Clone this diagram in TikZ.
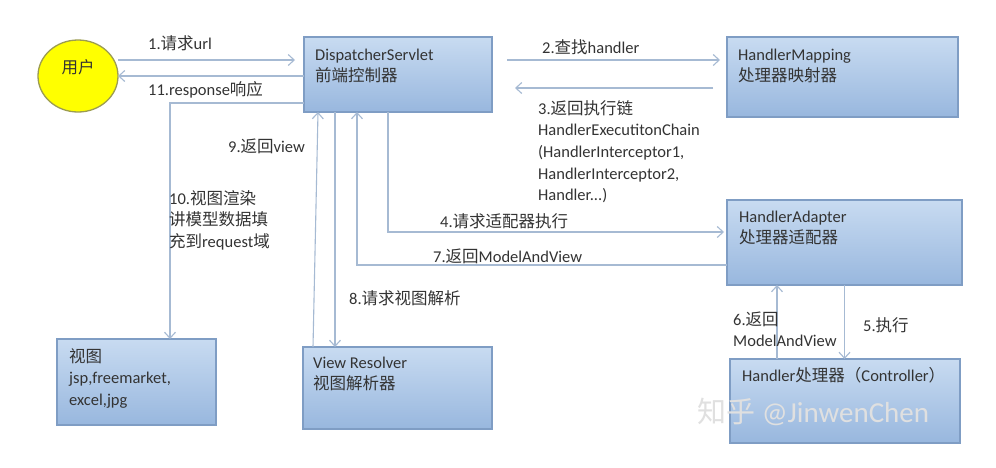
\documentclass[tikz,border=0pt]{standalone}
\usepackage{fontspec}
\setmainfont{Carlito}
\newfontfamily\cjk{Noto Sans CJK SC}
\usetikzlibrary{arrows.meta,shapes.geometric}
\definecolor{txt}{HTML}{333333}
\definecolor{boxtop}{HTML}{C8DBF1}
\definecolor{boxbot}{HTML}{98B7DE}
\definecolor{boxline}{HTML}{7F9DC4}
\definecolor{conn}{HTML}{A6BAD3}
\definecolor{usercol}{HTML}{FFFF00}
\definecolor{userline}{HTML}{9C9C50}
\newcommand\zh[1]{{\cjk #1}}
\newcommand\ml[1]{\begin{tabular}[t]{@{}l@{}}#1\end{tabular}}
\tikzset{
  box/.style={draw=boxline, line width=1.3pt, top color=boxtop, bottom color=boxbot, inner sep=0pt, outer sep=0pt},
  lbl/.style={anchor=base west, inner sep=0pt, text=txt, font=\fontsize{16.5}{21.7}\selectfont},
  arr/.style={draw=conn, line width=1.1pt, -{Straight Barb[length=6pt,width=11pt]}},
}
\begin{document}
\begin{tikzpicture}[x=1pt,y=-1pt]
\useasboundingbox (0,0) rectangle (996,467);
\fill[white] (0,0) rectangle (996,467);

% user
\node[ellipse, draw=userline, fill=usercol, line width=1.3pt, minimum width=80pt, minimum height=72pt, inner sep=0pt, outer sep=0pt] (user) at (78,76) {};
\node[lbl, anchor=center] (usert) at (78,67) {\zh{用户}};

% boxes
\node[box, minimum width=188pt, minimum height=75pt] (ds) at (398,74.5) {};
\node[box, minimum width=231pt, minimum height=80pt] (hm) at (842.5,77) {};
\node[box, minimum width=235pt, minimum height=85pt] (ha) at (844.5,242.5) {};
\node[box, minimum width=230pt, minimum height=84pt] (hd) at (845,401) {};
\node[box, minimum width=159pt, minimum height=86pt] (view) at (136.5,382) {};
\node[box, minimum width=189pt, minimum height=82pt] (vr) at (397.5,388) {};

% box texts
\node[lbl] (dst) at (315,60) {\ml{DispatcherServlet\\\zh{前端控制器}}};
\node[lbl] (hmt) at (738,60) {\ml{HandlerMapping\\\zh{处理器映射器}}};
\node[lbl] (hat) at (739,222) {\ml{HandlerAdapter\\\zh{处理器适配器}}};
\node[lbl] (hdt) at (742,381) {Handler\zh{处理器（}Controller\zh{）}};
\node[lbl] (viewt) at (69,362) {\ml{\zh{视图}\\jsp,freemarket,\\excel,jpg}};
\node[lbl] (vrt) at (313,368) {\ml{View Resolver\\\zh{视图解析器}}};

% connectors
\draw[arr] ([yshift=16pt]user.east) -- ([xshift=-9pt,yshift=14.5pt]ds.west);
\draw[arr] ([yshift=-1.5pt]ds.west) -- (user.east);
\draw[arr] ([xshift=15pt,yshift=14.5pt]ds.east) -- ([xshift=-7pt,yshift=17pt]hm.west);
\draw[arr] ([xshift=-14pt,yshift=-11pt]hm.west) -- ([xshift=23pt,yshift=-13.5pt]ds.east);
\draw[arr] ([xshift=-10pt]ds.south) |- ([xshift=-3pt,yshift=10.5pt]ha.west);
\draw[arr] ([yshift=-22.5pt]ha.west) -| ([xshift=-41pt]ds.south);
\draw[arr] (ha.south) -- (ha.south |- hd.north);
\draw[arr] ([xshift=-68pt]hd.north) -- ([xshift=-68pt]hd.north |- ha.south);
\draw[arr] ([xshift=-63pt]ds.south) -- ([xshift=-63pt]ds.south |- vr.north);
\draw[arr] ([xshift=10pt]vr.north west) -- ([xshift=14pt]ds.south west);
\draw[arr] ([yshift=-28.5pt]ds.west) -| ([xshift=33.5pt]view.north);

% connector labels
\node[lbl] (l1) at (148,49) {1.\zh{请求}url};
\node[lbl] (l11) at (148,95) {11.response\zh{响应}};
\node[lbl] (l2) at (542,53) {2.\zh{查找}handler};
\node[lbl] (l3) at (538,114) {\ml{3.\zh{返回执行链}\\HandlerExecutitonChain\\(HandlerInterceptor1,\\HandlerInterceptor2,\\Handler...)}};
\node[lbl] (l4) at (440,227) {4.\zh{请求适配器执行}};
\node[lbl] (l7) at (433,262) {7.\zh{返回}ModelAndView};
\node[lbl] (l8) at (349,304) {8.\zh{请求视图解析}};
\node[lbl] (l9) at (228,152) {9.\zh{返回}view};
\node[lbl] (l10) at (169,204) {\ml{10.\zh{视图渲染}\\\zh{讲模型数据填}\\\zh{充到}request\zh{域}}};
\node[lbl] (l6) at (733,325) {\ml{6.\zh{返回}\\ModelAndView}};
\node[lbl] (l5) at (863,331) {5.\zh{执行}};

% watermark
\node[lbl, text=black!12, font=\fontsize{29}{30}\selectfont] (wm) at (697,422) {\zh{知乎} @JinwenChen};
\end{tikzpicture}
\end{document}
